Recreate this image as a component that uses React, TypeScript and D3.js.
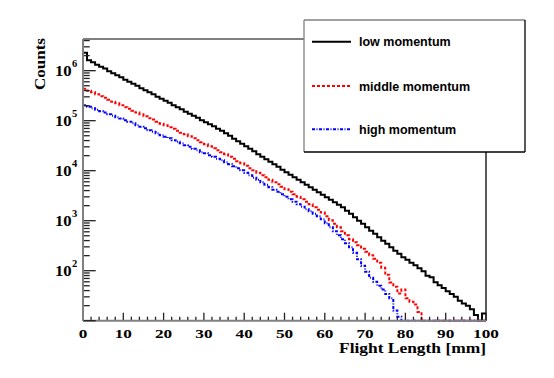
import React from "react";
import * as d3 from "d3";

// bin edges: 1 mm bins from 0 to 100 mm
const binEdges = d3.range(0, 101, 1);

const lowMomentum = [
  2.29e6, 1.62e6, 1.48e6, 1.32e6, 1.2e6, 1.1e6, 9.77e5, 8.91e5, 8.13e5, 7.41e5,
  6.61e5, 6.03e5, 5.5e5, 5.01e5, 4.47e5, 4.07e5, 3.72e5, 3.39e5, 3.02e5, 2.75e5,
  2.51e5, 2.29e5, 2.04e5, 1.86e5, 1.7e5, 1.51e5, 1.38e5, 1.26e5, 1.15e5, 1.02e5,
  9.33e4, 8.51e4, 7.76e4, 6.92e4, 6.31e4, 5.62e4, 5.01e4, 4.37e4, 3.89e4, 3.47e4,
  3.09e4, 2.75e4, 2.45e4, 2.14e4, 1.91e4, 1.7e4, 1.51e4, 1.35e4, 1.2e4, 1.05e4,
  9330, 8320, 7410, 6610, 5890, 5250, 4680, 4170, 3720, 3310,
  2950, 2630, 2340, 2090, 1860, 1580, 1380, 1170, 1000, 871,
  741, 631, 550, 468, 398, 347, 295, 251, 219, 186,
  166, 145, 129, 112, 98, 79, 74, 59, 51, 45,
  39, 34, 30, 25, 22, 20, 17, 13, 0, 14,
];

const middleMomentum = [
  4.37e5, 3.98e5, 3.72e5, 3.39e5, 3.09e5, 2.88e5, 2.63e5, 2.4e5, 2.24e5, 2.04e5,
  1.86e5, 1.74e5, 1.58e5, 1.45e5, 1.35e5, 1.23e5, 1.12e5, 1.05e5, 9.55e4, 8.71e4,
  8.13e4, 7.41e4, 6.92e4, 6.31e4, 5.75e4, 5.37e4, 4.9e4, 4.47e4, 4.07e4, 3.72e4,
  3.39e4, 3.09e4, 2.82e4, 2.57e4, 2.34e4, 2.14e4, 1.91e4, 1.74e4, 1.55e4, 1.41e4,
  1.26e4, 1.12e4, 1.02e4, 9120, 8130, 7410, 6610, 5890, 5370, 4790,
  4270, 3800, 3390, 3020, 2690, 2400, 2140, 1860, 1660, 1450,
  1230, 1020, 871, 741, 617, 513, 427, 372, 324, 275,
  240, 204, 174, 145, 115, 83, 58, 48, 35, 42,
  28, 24, 21, 15, 0, 0, 0, 0, 0, 0,
  0, 0, 0, 0, 0, 0, 0, 0, 0, 0,
];

const highMomentum = [
  2.04e5, 1.91e5, 1.78e5, 1.66e5, 1.55e5, 1.45e5, 1.35e5, 1.26e5, 1.17e5, 1.1e5,
  1.02e5, 9.55e4, 8.91e4, 8.13e4, 7.59e4, 7.08e4, 6.46e4, 6.03e4, 5.62e4, 5.13e4,
  4.79e4, 4.47e4, 4.07e4, 3.8e4, 3.55e4, 3.24e4, 3.02e4, 2.75e4, 2.57e4, 2.34e4,
  2.24e4, 2.04e4, 1.91e4, 1.74e4, 1.62e4, 1.48e4, 1.35e4, 1.23e4, 1.12e4, 1.02e4,
  9120, 8130, 7240, 6610, 5890, 5250, 4680, 4170, 3800, 3390,
  3020, 2690, 2400, 2140, 1910, 1700, 1550, 1380, 1230, 1070,
  891, 741, 617, 513, 427, 355, 295, 229, 170, 126,
  95, 72, 60, 50, 42, 34, 28, 16, 12, 0,
  0, 0, 0, 0, 0, 0, 0, 0, 0, 0,
  0, 0, 0, 0, 0, 0, 0, 0, 0, 0,
];

const seriesNames = ["low momentum", "middle momentum", "high momentum"];
const seriesColors = ["#000000", "#ff0000", "#0000ff"];
const seriesDash = ["none", "3,2", "3,1.5,1,1.5"];
const decadeTicks = [2, 3, 4, 5, 6];
const xTickLabels = [0, 10, 20, 30, 40, 50, 60, 70, 80, 90, 100];

const W = 554;
const H = 378;
const frame = { left: 83, right: 486, top: 39, bottom: 320.7 };
const yMin = 10;
const yMax = 4.3e6;

const serif = "'Liberation Serif', 'Times New Roman', serif";
const sans = "'Liberation Sans', Arial, Helvetica, sans-serif";

export default function App() {
  const x = d3.scaleLinear().domain([0, 100]).range([frame.left, frame.right]);
  const y = d3.scaleLog().domain([yMin, yMax]).range([frame.bottom, frame.top]);

  const histPath = (vals: number[]) => {
    const pts: [number, number][] = [];
    vals.forEach((v, i) => {
      const yy = y(Math.max(v, yMin));
      pts.push([x(binEdges[i]), yy]);
      pts.push([x(binEdges[i + 1]), yy]);
    });
    return d3.line()(pts) || "";
  };

  const series = [lowMomentum, middleMomentum, highMomentum];

  const xMinor = d3.range(0, 101, 2).filter((d) => d % 10 !== 0);
  const yAll = y.ticks(40).filter((d) => d >= yMin && d <= yMax);
  const isDecade = (d: number) => Math.abs(Math.log10(d) - Math.round(Math.log10(d))) < 1e-9;

  const legend = { x: 304, y: 20, w: 221, h: 132 };
  const legendRows = [41.7, 86, 129.3];

  return (
    <div style={{ position: "absolute", left: 0, top: 0 }}>
      <svg width={W} height={H} style={{ display: "block", background: "#fff" }}>
        <defs>
          <clipPath id="plotArea">
            <rect x={frame.left} y={frame.top} width={frame.right - frame.left} height={frame.bottom - frame.top + 1} />
          </clipPath>
        </defs>

        {/* histograms */}
        <g clipPath="url(#plotArea)">
          {series.map((vals, k) => (
            <path
              key={k}
              d={histPath(vals)}
              fill="none"
              stroke={seriesColors[k]}
              strokeWidth={2}
              strokeDasharray={seriesDash[k]}
            />
          ))}
        </g>

        {/* frame */}
        <line x1={frame.left} x2={legend.x} y1={frame.top} y2={frame.top} stroke="#808080" strokeWidth={2} />
        <line x1={frame.right} x2={frame.right} y1={legend.y + legend.h} y2={frame.bottom} stroke="#000" strokeWidth={1.3} />

        {/* x axis */}
        <g>
          {xTickLabels.map((d) => (
            <line key={"M" + d} x1={x(d)} x2={x(d)} y1={frame.bottom} y2={frame.bottom - 8} stroke="#222" strokeWidth={1.3} />
          ))}
          {xMinor.map((d) => (
            <line key={"m" + d} x1={x(d)} x2={x(d)} y1={frame.bottom} y2={frame.bottom - 4} stroke="#222" strokeWidth={1.3} />
          ))}
          <line x1={frame.left} x2={frame.right} y1={frame.bottom} y2={frame.bottom} stroke="#808080" strokeWidth={2} />
          {xTickLabels.map((d) => (
            <text
              key={"t" + d}
              x={x(d)}
              y={337.8}
              textAnchor="middle"
              fontFamily={serif}
              fontWeight="bold"
              fontSize={13}
              textLength={String(d).length * 8.6}
              lengthAdjust="spacingAndGlyphs"
              fill="#000"
            >
              {d}
            </text>
          ))}
          <text
            x={frame.right}
            y={353}
            textAnchor="end"
            fontFamily={serif}
            fontWeight="bold"
            fontSize={14}
            textLength={147}
            lengthAdjust="spacingAndGlyphs"
            fill="#000"
          >
            Flight Length [mm]
          </text>
        </g>

        {/* y axis */}
        <g>
          {yAll.map((d, i) => (
            <line
              key={"y" + i}
              x1={frame.left}
              x2={frame.left + (isDecade(d) ? 12.7 : 6.7)}
              y1={y(d)}
              y2={y(d)}
              stroke="#222"
              strokeWidth={1.3}
            />
          ))}
          <line x1={frame.left} x2={frame.left} y1={frame.top} y2={frame.bottom} stroke="#808080" strokeWidth={2} />
          {decadeTicks.map((p) => (
            <g key={"yl" + p}>
              <text
                x={71.7}
                y={y(Math.pow(10, p)) + 5.5}
                textAnchor="end"
                fontFamily={serif}
                fontWeight="bold"
                fontSize={14.5}
                textLength={16.7}
                lengthAdjust="spacingAndGlyphs"
                fill="#000"
              >
                10
              </text>
              <text
                x={72}
                y={y(Math.pow(10, p)) - 4}
                fontFamily={serif}
                fontWeight="bold"
                fontSize={10.5}
                fill="#000"
              >
                {p}
              </text>
            </g>
          ))}
          <text
            transform={`translate(45, ${frame.top - 1}) rotate(-90)`}
            textAnchor="end"
            fontFamily={serif}
            fontWeight="bold"
            fontSize={15}
            textLength={52}
            lengthAdjust="spacingAndGlyphs"
            fill="#000"
          >
            Counts
          </text>
        </g>

        {/* legend */}
        <g>
          <rect x={legend.x} y={legend.y} width={legend.w} height={legend.h} fill="#fff" stroke="none" />
          <line x1={legend.x} x2={legend.x + legend.w} y1={legend.y} y2={legend.y} stroke="#808080" strokeWidth={1.3} />
          <line x1={legend.x} x2={legend.x} y1={legend.y} y2={legend.y + legend.h} stroke="#808080" strokeWidth={1.3} />
          <line x1={legend.x + legend.w} x2={legend.x + legend.w} y1={legend.y} y2={legend.y + legend.h} stroke="#000" strokeWidth={1.3} />
          <line x1={legend.x} x2={legend.x + legend.w} y1={legend.y + legend.h} y2={legend.y + legend.h} stroke="#000" strokeWidth={1.3} />
          {seriesNames.map((name, k) => (
            <g key={name}>
              <line
                x1={312}
                x2={351}
                y1={legendRows[k]}
                y2={legendRows[k]}
                stroke={seriesColors[k]}
                strokeWidth={2}
                strokeDasharray={seriesDash[k]}
              />
              <text x={359} y={legendRows[k] + 4.5} fontFamily={sans} fontWeight="bold" fontSize={12.5} fill="#000">
                {name}
              </text>
            </g>
          ))}
        </g>
      </svg>
    </div>
  );
}
